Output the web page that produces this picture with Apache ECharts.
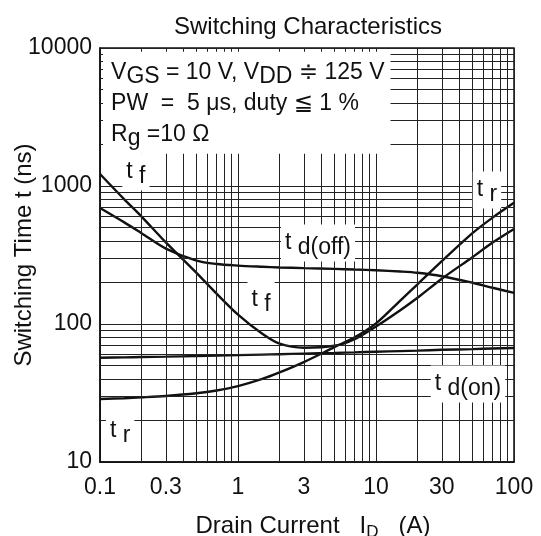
<!DOCTYPE html>
<html><head><meta charset="utf-8">
<script src="https://cdn.jsdelivr.net/npm/echarts@6/dist/echarts.min.js"></script>
<style>html,body{margin:0;padding:0;background:#fff}#c{width:541px;height:536px}</style>
</head><body><div id="c"></div>
<script>
// ---- data ----
const xTickLabels = [0.1, 0.3, 1, 3, 10, 30, 100];
const yTickLabels = [10, 100, 1000, 10000];
const xGridValues = [0.2,0.3,0.4,0.5,0.6,0.7,0.8,0.9,2,3,4,5,6,7,8,9,20,30,40,50,60,70,80,90];
const yGridValues = [20,30,40,50,60,70,80,90,200,300,400,500,600,700,800,900,2000,3000,4000,5000,6000,7000,8000,9000];

const current = [0.1, 0.15, 0.2, 0.3, 0.5, 0.7, 1, 1.5, 2, 3, 5, 7, 10, 15, 20, 30, 50, 70, 100];
const tdOnValues  = [57, 57.3, 57.6, 58, 58.6, 59, 59.5, 60, 60.4, 61, 61.7, 62.3, 63, 63.6, 64.1, 65, 65.8, 66.4, 67];
const trValues    = [28.6, 29, 29.4, 30.1, 31.5, 33, 35.5, 40, 44.6, 53, 68, 80, 101, 148, 194, 285, 455, 590, 755];
const tfValues    = [1222, 800, 600, 390, 235, 166, 117, 85, 72, 67.3, 69.5, 77.5, 96, 126, 155, 213, 305, 389, 488];
const tdOffValues = [693, 545, 455, 352, 288, 272, 265, 260, 257, 254, 251, 248, 245, 240, 235, 222, 199, 183, 168];

const conditionText = 'V{s|GS} = 10 V, V{s|DD} \u2251 125 V\nPW  =  5 \u03bcs, duty \u2266 1 %\nR{s|g} =10 \u03a9';
const curveLabels = [
  {text:'{t|t }{s|f}', at:[0.182,1263]},
  {text:'{t|t }{s|r}', at:[63.7,935]},
  {text:'{t|t }{s|d(off)}', at:[3.8,386]},
  {text:'{t|t }{s|f}', at:[1.47,149]},
  {text:'{t|t }{s|d(on)}', at:[46.4,36.7]},
  {text:'{t|t }{s|r}', at:[0.14,16.8]}
];
const conditionAnchor = [0.1052, 9400];

// ---- chart ----
const FONT = '"Liberation Sans", Arial, Helvetica, "DejaVu Sans", "Noto Sans CJK JP", sans-serif';
const INK = '#111';
const chart = echarts.init(document.getElementById('c'), null, {renderer:'canvas'});

const pairs = vals => current.map((x, i) => [x, vals[i]]);

const subRich = {
  t: {fontSize:23, fontFamily:FONT, color:INK},
  s: {fontSize:23, fontFamily:FONT, color:INK, padding:[10,0,0,0]}
};

const labelItems = curveLabels.map(l => ({
  value: l.at,
  label: {show:true, position:'inside', formatter:l.text, align:'center', verticalAlign:'middle',
          backgroundColor:'#fff', padding:[2,4,2,4], color:INK, opacity:1, rich:subRich}
}));
labelItems.push({
  value: conditionAnchor,
  label: {show:true, position:'inside', formatter:conditionText, align:'left', verticalAlign:'top',
          backgroundColor:'#fff', padding:[5,6,4,8], lineHeight:31, opacity:1,
          fontSize:23, fontFamily:FONT, color:INK,
          rich:{s:{fontSize:23, fontFamily:FONT, color:INK, lineHeight:31, padding:[8,0,0,0]}}}
});

const curve = (name, vals) => ({
  name, type:'line', data:pairs(vals), smooth:0.3, symbol:'none', z:3,
  lineStyle:{color:INK, width:2.4}, silent:true
});

chart.setOption({
  animation:false,
  backgroundColor:'#fff',
  title:{text:'Switching Characteristics', left:303, top:10, textAlign:'center',
         textStyle:{fontFamily:FONT, fontSize:24, fontWeight:'normal', color:INK}},
  grid:{left:100, right:27, top:48, bottom:74, show:true, borderColor:INK, borderWidth:1.5,
        containLabel:false, outerBoundsMode:'none'},
  xAxis:{type:'log', logBase:10, min:0.1, max:100,
    name:'Drain Current   I{s|D}   (A)', nameLocation:'middle', nameGap:50,
    nameTextStyle:{fontFamily:FONT, fontSize:24, color:INK, padding:[0,0,0,12],
                   rich:{s:{fontFamily:FONT, fontSize:17, color:INK, padding:[12,0,0,0]}}},
    axisLine:{show:true, lineStyle:{color:INK, width:1.5}}, axisTick:{show:false},
    splitLine:{show:true, lineStyle:{color:'#222', width:1}},
    axisLabel:{customValues:xTickLabels, fontFamily:FONT, fontSize:23, color:INK, margin:14,
               formatter:v => String(+(+v).toPrecision(3))}},
  yAxis:{type:'log', logBase:10, min:10, max:10000,
    name:'Switching Time t (ns)', nameLocation:'middle', nameGap:64, nameMoveOverlap:false,
    nameTextStyle:{fontFamily:FONT, fontSize:24, color:INK},
    axisLine:{show:true, lineStyle:{color:INK, width:1.5}}, axisTick:{show:false},
    splitLine:{show:true, lineStyle:{color:'#222', width:1}},
    axisLabel:{customValues:yTickLabels, fontFamily:FONT, fontSize:23, color:INK, margin:8,
               formatter:v => String(+(+v).toPrecision(3))}},
  series:[
    {name:'grid', type:'line', data:[], silent:true, z:1,
     markLine:{silent:true, symbol:['none','none'], label:{show:false}, animation:false,
       lineStyle:{color:'#222', width:1, type:'solid'},
       emphasis:{disabled:true},
       data:[...xGridValues.map(v => ({xAxis:v})), ...yGridValues.map(v => ({yAxis:v}))]}},
    curve('td(on)', tdOnValues),
    curve('tr', trValues),
    curve('tf', tfValues),
    curve('td(off)', tdOffValues),
    {name:'labels', type:'scatter', data:labelItems, symbol:'circle', symbolSize:1, z:5, silent:true,
     itemStyle:{color:'#fff', opacity:1}}
  ]
});
</script></body></html>
